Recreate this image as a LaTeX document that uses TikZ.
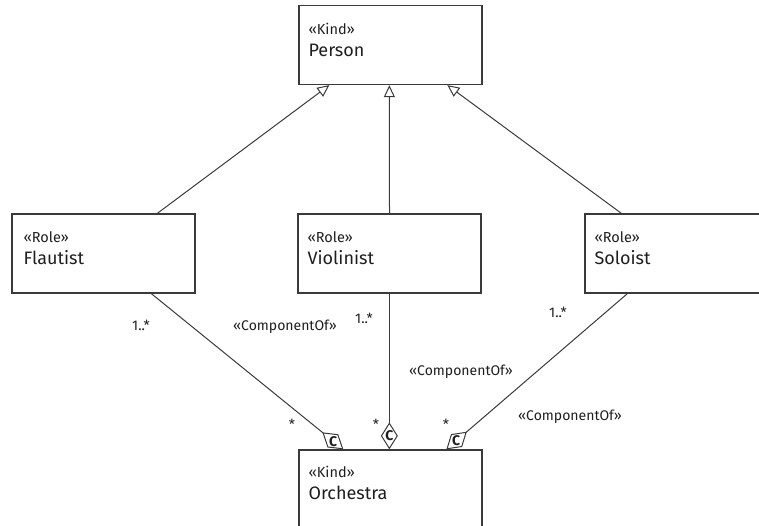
\documentclass[tikz,border=0pt]{standalone}
\usepackage{fontspec}
\setmainfont{Fira Sans}
\usetikzlibrary{arrows.meta,calc}

\definecolor{umlline}{HTML}{3A3A3A}
\definecolor{umltext}{HTML}{1E1E1E}

\newcommand{\stereo}[1]{{\fontsize{14.5}{16}\selectfont\guillemotleft #1\guillemotright}}

\begin{document}
\begin{tikzpicture}[x=1pt, y=-1pt,
    umlbox/.style={draw=umlline, line width=1.3pt, minimum width=183pt, minimum height=79pt, inner sep=0pt},
    umltitle/.style={anchor=north west, align=left, inner sep=0pt, text=umltext, font=\fontsize{18}{20}\selectfont},
    isa/.style={draw=umlline, line width=1pt, -{Triangle[open, length=12pt, width=11pt, line width=1pt]}},
    partof/.style={draw=umlline, line width=1pt, -{Diamond[open, length=27pt, width=17pt, line width=1pt]}},
    mult/.style={text=umltext, font=\fontsize{14}{16}\selectfont, inner sep=0pt},
    letter/.style={text=umltext, font=\fontsize{14}{16}\selectfont\bfseries, inner sep=0pt}]
    \clip (0,0) rectangle (759,526);

    % classes
    \node[umlbox] (person) at (390.5,45) {};
    \node[umltitle] at ($(person.north west)+(10,18)$) {\stereo{Kind}\\[2pt]Person};
    \node[umlbox] (flautist) at (103.5,253.5) {};
    \node[umltitle] at ($(flautist.north west)+(12,18)$) {\stereo{Role}\\[2pt]Flautist};
    \node[umlbox] (violinist) at (389.5,253.5) {};
    \node[umltitle] at ($(violinist.north west)+(10,18)$) {\stereo{Role}\\[2pt]Violinist};
    \node[umlbox] (soloist) at (676.5,253.5) {};
    \node[umltitle] at ($(soloist.north west)+(10,18)$) {\stereo{Role}\\[2pt]Soloist};
    \node[umlbox] (orchestra) at (390.5,489.5) {};
    \node[umltitle] at ($(orchestra.north west)+(10,17)$) {\stereo{Kind}\\[2pt]Orchestra};

    % generalizations
    \draw[isa] ($(flautist.north west)+(146,0)$) -- ($(person.south west)+(31,0)$);
    \draw[isa] (violinist.north) -- ($(person.south west)+(91,0)$);
    \draw[isa] ($(soloist.north west)+(37,0)$) -- ($(person.south west)+(149,0)$);

    % parts of the orchestra
    \coordinate (fend) at ($(orchestra.north west)+(45,0)$);
    \coordinate (vend) at ($(orchestra.north west)+(91,0)$);
    \coordinate (send) at ($(orchestra.north west)+(148,0)$);
    \draw[partof] ($(flautist.south west)+(140,0)$) -- (fend);
    \draw[partof] ($(violinist.south west)+(92,0)$) -- (vend);
    \draw[partof] ($(soloist.south west)+(43,0)$) -- (send);
    \node[letter] at ($(fend)!13pt!($(flautist.south west)+(140,0)$)$) {C};
    \node[letter] at ($(vend)!14pt!($(violinist.south west)+(92,0)$)$) {C};
    \node[letter] at ($(send)!13pt!($(soloist.south west)+(43,0)$)$) {C};

    % multiplicities and stereotypes
    \node[mult] at (141,325) {1..*};
    \node[mult] at (285,327) {\guillemotleft ComponentOf\guillemotright};
    \node[mult] at (364,318) {1..*};
    \node[mult] at (461,372) {\guillemotleft ComponentOf\guillemotright};
    \node[mult] at (558,312) {1..*};
    \node[mult] at (570,417) {\guillemotleft ComponentOf\guillemotright};
    \node[mult] at (292,424) {*};
    \node[mult] at (376,424) {*};
    \node[mult] at (446,424) {*};
\end{tikzpicture}
\end{document}
